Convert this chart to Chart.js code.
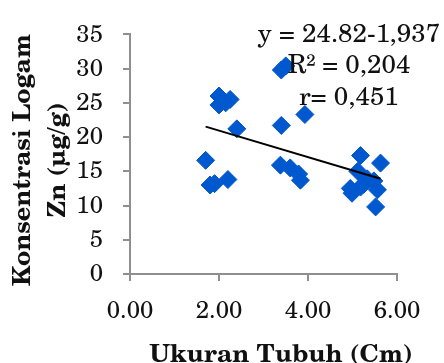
<!DOCTYPE html>
<html>
<head>
<meta charset="utf-8">
<script src="https://cdn.jsdelivr.net/npm/chart.js@4/dist/chart.umd.min.js"></script>
<style>
  html, body { margin: 0; padding: 0; background: #fff; }
  #wrap { width: 444px; height: 363px; }
</style>
</head>
<body>
<div id="wrap"><canvas id="znChart" width="444" height="363"></canvas></div>
<script>
// ukuran tubuh (cm) vs konsentrasi Zn (µg/g)
const ukuran = [1.7, 1.8, 1.9, 2.2, 2.0, 2.0, 2.15, 2.25, 2.4,
                3.4, 3.5, 3.4, 3.93, 3.38, 3.6, 3.79, 3.83,
                5.18, 5.63, 5.12, 5.48, 5.33, 4.99, 4.95, 5.18, 5.56, 5.52, 5.25];
const zn = [16.6, 13.0, 13.2, 13.8, 26.0, 24.7, 25.0, 25.5, 21.2,
            29.8, 30.4, 21.7, 23.3, 15.9, 15.5, 14.6, 13.7,
            17.3, 16.2, 15.0, 13.6, 13.9, 11.8, 12.5, 12.7, 12.3, 9.8, 13.1];

// regresi linier: y = a + b x
const intercept = 24.82;
const slope = -1.937;
const eqLines = ["y = 24.82-1,937", "R\u00b2 = 0,204", "r= 0,451"];

const xTicks = [0, 2, 4, 6];
const yTicks = [0, 5, 10, 15, 20, 25, 30, 35];

const points = ukuran.map((u, i) => ({ x: u, y: zn[i] }));
const xMin = Math.min(...ukuran);
const xMax = Math.max(...ukuran);
const trend = [
    { x: xMin, y: intercept + slope * xMin },
    { x: xMax, y: intercept + slope * xMax }
];

const SERIF = "'TeX Gyre Schola', 'Liberation Serif', serif";
const axisGray = '#8f8f8f';

// judul sumbu dan persamaan ditulis manual
const textPlugin = {
    id: 'labels',
    afterDatasetsDraw(chart) {
        const ctx = chart.ctx;
        ctx.save();
        ctx.fillStyle = '#111';
        ctx.textAlign = 'center';
        ctx.textBaseline = 'alphabetic';

        ctx.font = '26px ' + SERIF;
        const eqY = [42, 73, 105];
        eqLines.forEach((t, i) => ctx.fillText(t, 349, eqY[i]));

        ctx.font = 'bold 25px ' + SERIF;
        ctx.fillText('Ukuran Tubuh (Cm)', 281, 362);

        ctx.translate(0, 160);
        ctx.rotate(-Math.PI / 2);
        ctx.fillText('Konsentrasi Logam', 0, 30);
        ctx.fillText('Zn (\u00b5g/g)', 0, 65);
        ctx.restore();
    }
};

const ctx = document.getElementById('znChart').getContext('2d');
new Chart(ctx, {
    type: 'scatter',
    data: {
        datasets: [
            {
                type: 'line',
                data: trend,
                borderColor: '#000',
                borderWidth: 2,
                pointRadius: 0,
                fill: false,
                order: 0
            },
            {
                data: points,
                pointStyle: 'rectRot',
                pointRadius: 9,
                pointBackgroundColor: '#0058cf',
                pointBorderColor: '#0058cf',
                pointBorderWidth: 1,
                order: 1
            }
        ]
    },
    options: {
        responsive: false,
        animation: false,
        layout: { padding: { top: 20, right: 47, left: 0, bottom: 0 } },
        plugins: {
            legend: { display: false },
            tooltip: { enabled: false }
        },
        scales: {
            x: {
                type: 'linear',
                min: 0,
                max: 6,
                afterBuildTicks: s => { s.ticks = xTicks.map(v => ({ value: v })); },
                afterFit: s => { s.height = 89; },
                grid: { drawOnChartArea: false, drawTicks: true, tickLength: 7, color: axisGray, lineWidth: 2 },
                border: { display: true, color: axisGray, width: 2 },
                ticks: {
                    color: '#111',
                    padding: 15,
                    font: { family: SERIF, size: 24 },
                    callback: v => Number(v).toFixed(2)
                }
            },
            y: {
                type: 'linear',
                min: 0,
                max: 35,
                afterBuildTicks: s => { s.ticks = yTicks.map(v => ({ value: v })); },
                afterFit: s => { s.width = 130; },
                grid: { drawOnChartArea: false, drawTicks: true, tickLength: 7, color: axisGray, lineWidth: 2 },
                border: { display: true, color: axisGray, width: 2 },
                ticks: {
                    color: '#111',
                    padding: 20,
                    font: { family: SERIF, size: 24 }
                }
            }
        }
    },
    plugins: [textPlugin]
});
</script>
</body>
</html>
